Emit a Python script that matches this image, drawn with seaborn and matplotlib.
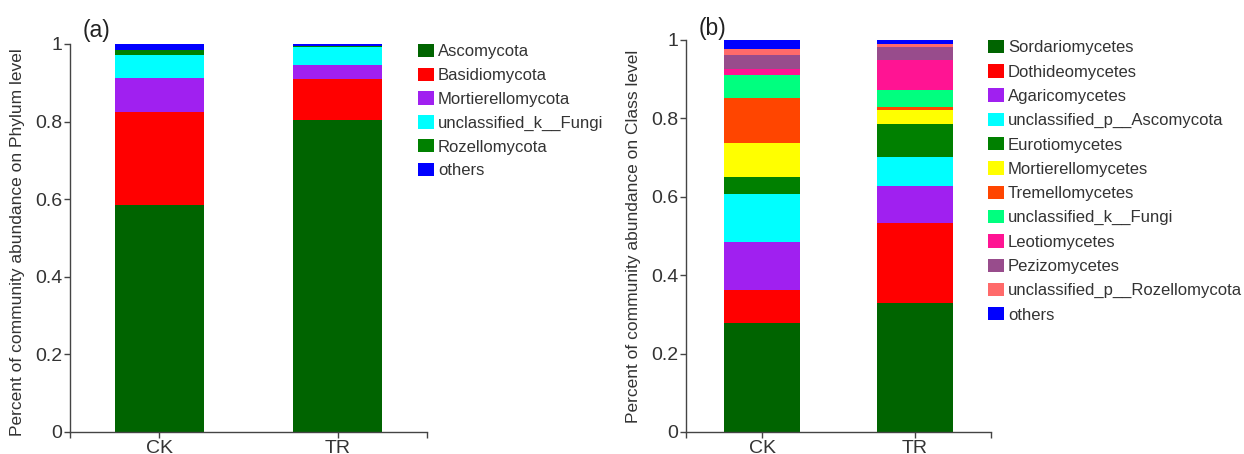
import numpy as np
import pandas as pd
import seaborn as sns
import matplotlib.pyplot as plt
from matplotlib.patches import Patch

# Data
samples = ['CK', 'TR']

phylum_names = ['Ascomycota', 'Basidiomycota', 'Mortierellomycota',
                'unclassified_k__Fungi', 'Rozellomycota', 'others']
phylum_ck = [0.585, 0.240, 0.088, 0.058, 0.013, 0.015]
phylum_tr = [0.803, 0.108, 0.035, 0.046, 0.004, 0.004]
phylum_colors = ['#006400', '#FF0000', '#A020F0', '#00FFFF', '#008000', '#0000FF']

class_names = ['Sordariomycetes', 'Dothideomycetes', 'Agaricomycetes',
               'unclassified_p__Ascomycota', 'Eurotiomycetes', 'Mortierellomycetes',
               'Tremellomycetes', 'unclassified_k__Fungi', 'Leotiomycetes',
               'Pezizomycetes', 'unclassified_p__Rozellomycota', 'others']
class_ck = [0.279, 0.082, 0.123, 0.122, 0.045, 0.085, 0.115, 0.059, 0.017, 0.036, 0.015, 0.021]
class_tr = [0.328, 0.204, 0.095, 0.075, 0.083, 0.037, 0.007, 0.043, 0.078, 0.032, 0.007, 0.010]
class_colors = ['#006400', '#FF0000', '#A020F0', '#00FFFF', '#008000', '#FFFF00',
                '#FF4500', '#00FF7F', '#FF1493', '#984C8C', '#FF6A6A', '#0000FF']

sns.set_style('white')
plt.rcParams['font.family'] = ['Liberation Sans', 'DejaVu Sans']
text_color = '#333333'

fig = plt.figure(figsize=(12.44, 4.54), dpi=100)
W, H = 1244, 454


def stacked(ax, names, ck, tr, colors):
    df = pd.DataFrame({'CK': ck, 'TR': tr}, index=names)
    cum = df.cumsum()
    # draw cumulative totals from the top down so each layer covers the next
    for name, col in zip(names[::-1], colors[::-1]):
        d = pd.DataFrame({'sample': samples, 'value': cum.loc[name].values})
        sns.barplot(data=d, x='sample', y='value', color=col, saturation=1,
                    width=0.5, errorbar=None, linewidth=0, ax=ax)
    ax.set_xlim(-0.5, 1.5)
    ax.set_ylim(0, 1)
    ax.set_yticks([0, 0.2, 0.4, 0.6, 0.8, 1])
    ax.set_yticklabels(['0', '0.2', '0.4', '0.6', '0.8', '1'])
    ax.set_xticks([-0.5, 1.5], minor=True)
    ax.set_xlabel('')
    for s in ['top', 'right']:
        ax.spines[s].set_visible(False)
    for s in ['left', 'bottom']:
        ax.spines[s].set_color('#444444')
        ax.spines[s].set_linewidth(1.0)
    ax.tick_params(axis='both', which='both', direction='out', length=4, width=1,
                   color='#444444', labelsize=14, labelcolor=text_color, pad=1.5)
    ax.tick_params(axis='y', left=True)
    ax.tick_params(axis='x', bottom=True, which='both')


# panel (a)
ax1 = fig.add_axes([70 / W, 1 - 432 / H, (427 - 70) / W, (432 - 44) / H])
stacked(ax1, phylum_names, phylum_ck, phylum_tr, phylum_colors)
ax1.set_ylabel('Percent of community abundance on Phylum level', fontsize=12.5, color=text_color)
ax1.yaxis.set_label_coords(-0.125, 0.49)

# panel (b)
ax2 = fig.add_axes([686 / W, 1 - 432 / H, (991 - 686) / W, (432 - 40) / H])
stacked(ax2, class_names, class_ck, class_tr, class_colors)
ax2.set_ylabel('Percent of community abundance on Class level', fontsize=12.5, color=text_color)
ax2.yaxis.set_label_coords(-0.146, 0.5)

fig.text(96 / W, 1 - 31 / H, '(a)', fontsize=16.5, ha='center', va='center', color='#222222')
fig.text(712 / W, 1 - 28 / H, '(b)', fontsize=16.5, ha='center', va='center', color='#222222')

h1 = [Patch(facecolor=c, edgecolor='none') for c in phylum_colors]
fig.legend(h1, phylum_names, loc='upper left', bbox_to_anchor=(418 / W, 1 - 44 / H),
           frameon=False, fontsize=12, handlelength=0.95, handleheight=0.85,
           handletextpad=0.24, labelspacing=0.5, borderpad=0, borderaxespad=0,
           labelcolor=text_color)

h2 = [Patch(facecolor=c, edgecolor='none') for c in class_colors]
fig.legend(h2, class_names, loc='upper left', bbox_to_anchor=(988 / W, 1 - 40 / H),
           frameon=False, fontsize=12, handlelength=0.95, handleheight=0.85,
           handletextpad=0.24, labelspacing=0.53, borderpad=0, borderaxespad=0,
           labelcolor=text_color)

fig.savefig('out.png', dpi=100)
